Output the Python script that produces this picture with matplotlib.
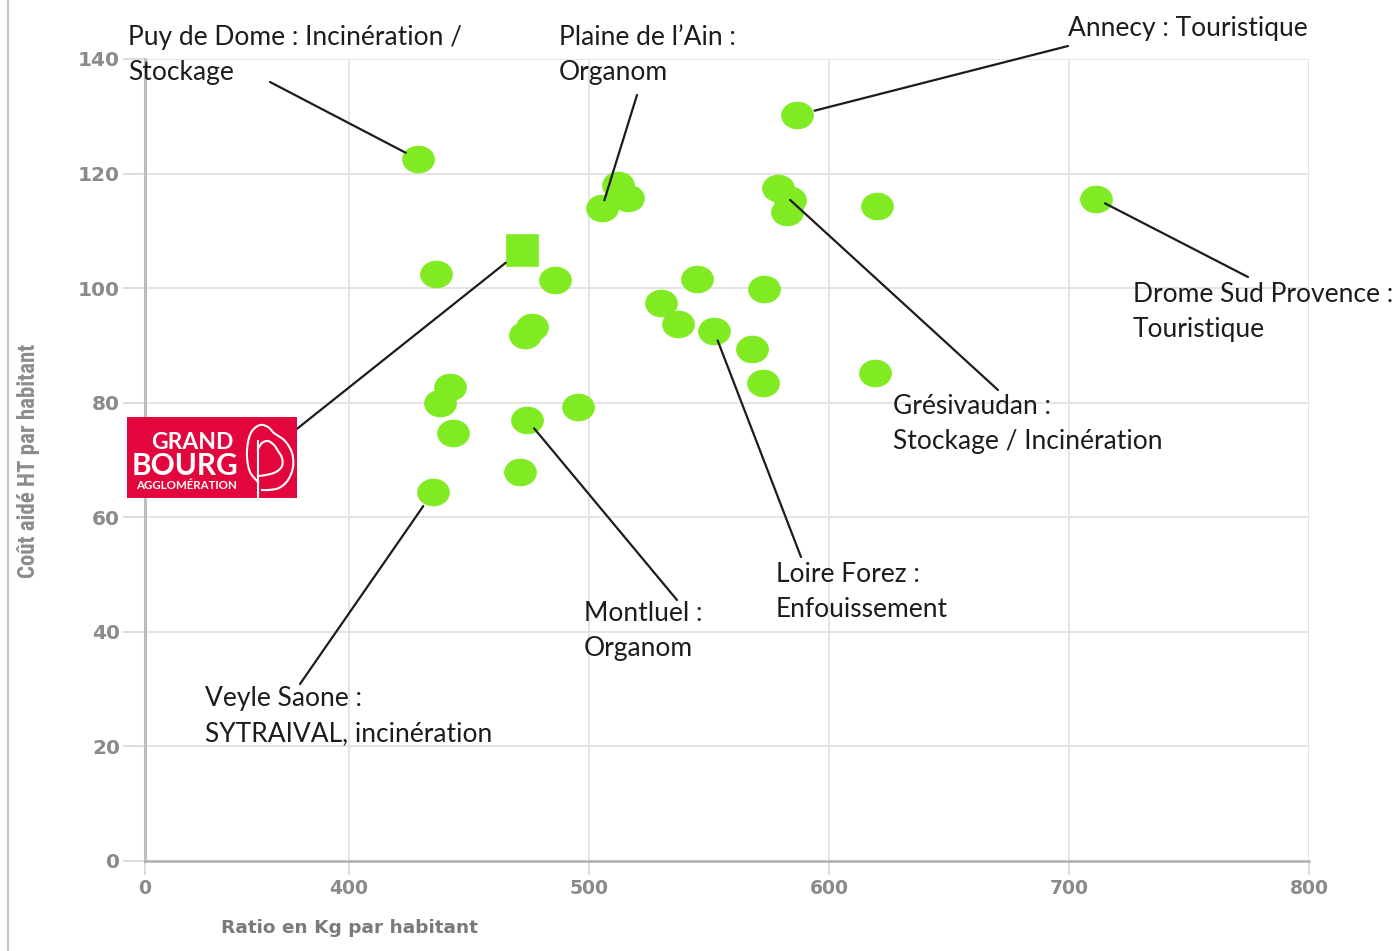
import numpy as np
import matplotlib
matplotlib.use("Agg")
import matplotlib.pyplot as plt
from matplotlib import font_manager
from matplotlib.path import Path
from matplotlib.patches import Rectangle
from matplotlib.lines import Line2D

# ---------------- data ----------------
ratio_kg = [428.8, 586.7, 512.1, 516.3, 505.4, 578.8, 583.8, 582.5, 620.0, 711.3,
            436.3, 485.8, 545.0, 572.9, 530.0, 537.1, 552.1, 476.3, 473.3, 567.9,
            572.5, 619.2, 442.1, 437.9, 443.3, 474.2, 495.4, 471.3, 435.0]
cout_aide = [122.5, 130.2, 118.0, 115.7, 114.0, 117.5, 115.4, 113.3, 114.3, 115.6,
             102.5, 101.4, 101.6, 99.9, 97.4, 93.7, 92.5, 93.2, 91.8, 89.4,
             83.4, 85.2, 82.7, 80.0, 74.7, 77.0, 79.3, 67.9, 64.4]
gb_ratio = [472.1]
gb_cout = [106.7]

x_ticks = [0, 400, 500, 600, 700, 800]
y_ticks = [0, 20, 40, 60, 80, 100, 120, 140]
x_label = "Ratio en Kg par habitant"
y_label = "Coût aidé HT par habitant"

# annotations: (label lines, index of point, text x px, first baseline px, leader start px, shrink px)
annotations = [
    (["Puy de Dome : Incinération /", "Stockage"], 0, 128, 45, (270, 82), 14),
    (["Plaine de l\u2019Ain :", "Organom"], 4, 559, 45, (637, 95), 8),
    (["Annecy : Touristique"], 1, 1068, 36, (1068, 46), 18),
    (["Drome Sud Provence :", "Touristique"], 9, 1133, 302, (1248, 277), 10),
    (["Grésivaudan :", "Stockage / Incinération"], 6, 893, 414, (998, 390), 0),
    (["Loire Forez :", "Enfouissement"], 16, 776, 582, (801, 557), 10),
    (["Montluel :", "Organom"], 25, 584, 621, (677, 600), 11),
    (["Veyle Saone :", "SYTRAIVAL, incinération"], 28, 205, 706, (300, 684), 17),
]

GREEN = "#80EB22"
W, H = 1400, 951

fig = plt.figure(figsize=(W / 100, H / 100), dpi=100)
fig.patch.set_facecolor("white")

def fx(px):
    return np.asarray(px, dtype=float) / W

def fy(py):
    return 1 - np.asarray(py, dtype=float) / H

ax = fig.add_axes([fx(145), fy(861), (1309 - 145) / W, (861 - 59) / H])

def fwd(x):
    x = np.asarray(x, dtype=float)
    return np.where(x <= 400, x * 85.0 / 400.0, x - 315.0)

def inv(u):
    u = np.asarray(u, dtype=float)
    return np.where(u <= 85, u * 400.0 / 85.0, u + 315.0)

ax.set_xscale("function", functions=(fwd, inv))
ax.set_xlim(0, 800)
ax.set_ylim(0, 140)

# grid
for v in x_ticks[1:]:
    ax.axvline(v, color="#e4e4e4", lw=1.4, zorder=0)
for v in y_ticks[1:]:
    ax.axhline(v, color="#e4e4e4", lw=1.4, zorder=0)

for s in ["top", "right"]:
    ax.spines[s].set_visible(False)
ax.spines["left"].set_color("#bdbdbd")
ax.spines["left"].set_linewidth(2.2)
ax.spines["bottom"].set_color("#b0b0b0")
ax.spines["bottom"].set_linewidth(1.8)

ax.set_xticks(x_ticks)
ax.set_xticklabels([str(t) for t in x_ticks])
ax.set_yticks(y_ticks)
ax.set_yticklabels([str(t) for t in y_ticks])
ax.minorticks_off()
ax.tick_params(axis="x", length=10, width=1.4, color="#dcdcdc", pad=3,
               labelsize=13.5, labelcolor="#8a8a8a")
ax.tick_params(axis="y", length=16, width=1.4, color="#dcdcdc", pad=2,
               labelsize=14.5, labelcolor="#8a8a8a")
for lab in ax.get_xticklabels() + ax.get_yticklabels():
    lab.set_fontweight("bold")
    lab.set_family("DejaVu Sans")

# markers
t = np.linspace(0, 2 * np.pi, 60)
ell = Path(np.column_stack([1.185 * np.cos(t), np.sin(t)]), closed=True)
ax.plot(ratio_kg, cout_aide, linestyle="none", marker=ell, markersize=23,
        markerfacecolor=GREEN, markeredgecolor=GREEN, markeredgewidth=0.5, zorder=3)
ax.plot(gb_ratio, gb_cout, linestyle="none", marker="s", markersize=23.5,
        markerfacecolor=GREEN, markeredgecolor=GREEN, markeredgewidth=0.5, zorder=3)

# annotations
TXT = "#1c1c1c"
for lines, idx, tx, base, start, shrink in annotations:
    for k, line in enumerate(lines):
        fig.text(fx(tx), fy(base + 35 * k), line, fontsize=19, family="Lato",
                 color=TXT, ha="left", va="baseline")
    ax.annotate("", xy=(ratio_kg[idx], cout_aide[idx]), xycoords="data",
                xytext=(fx(start[0]), fy(start[1])), textcoords="figure fraction",
                arrowprops=dict(arrowstyle="-", color=TXT, lw=1.6,
                                shrinkA=0, shrinkB=shrink * 0.72), zorder=4)

# leader to Grand Bourg square
ax.annotate("", xy=(gb_ratio[0], gb_cout[0]), xycoords="data",
            xytext=(fx(293), fy(432)), textcoords="figure fraction",
            arrowprops=dict(arrowstyle="-", color=TXT, lw=1.6,
                            shrinkA=0, shrinkB=15), zorder=4)

# axis labels
fig.text(fx(349), fy(928), x_label, fontsize=13.3, family="DejaVu Sans",
         color="#7a7a7a", ha="center", va="center", fontweight="bold")

def has_font(name):
    try:
        font_manager.findfont(font_manager.FontProperties(family=name),
                              fallback_to_default=False)
        return True
    except Exception:
        return False

if has_font("Roboto Condensed"):
    yl_family, yl_size = "Roboto Condensed", 16.5
elif has_font("Liberation Sans Narrow"):
    yl_family, yl_size = "Liberation Sans Narrow", 17
else:
    yl_family, yl_size = "Liberation Sans", 13.6
fig.text(fx(29), fy(461), y_label, fontsize=yl_size, family=yl_family,
         color="#8c8c8c", ha="center", va="center", rotation=90, fontweight="bold")

# left border line of the image
fig.add_artist(Line2D([fx(8), fx(8)], [0, 1], color="#c8c8c8", lw=1.5))

# Grand Bourg logo
RED = "#E2063C"
fig.add_artist(Rectangle((fx(127), fy(498)), (297 - 127) / W, (498 - 417) / H,
                         transform=fig.transFigure, facecolor=RED, edgecolor="none", zorder=5))
fig.text(fx(151), fy(449), "GRAND", fontsize=16.5, family="Lato", color="white",
         fontweight="bold", ha="left", va="baseline", zorder=6)
fig.text(fx(132), fy(475), "BOURG", fontsize=21.5, family="Lato", color="white",
         fontweight="bold", ha="left", va="baseline", zorder=6)
fig.text(fx(136), fy(489), "AGGLOMÉRATION", fontsize=8.3, family="Lato",
         color="white", fontweight="bold", ha="left", va="baseline", zorder=6)

def catmull(pts, n=12):
    pts = np.asarray(pts, dtype=float)
    p = np.vstack([pts[0], pts, pts[-1]])
    out = []
    for i in range(1, len(p) - 2):
        p0, p1, p2, p3 = p[i - 1], p[i], p[i + 1], p[i + 2]
        for s in np.linspace(0, 1, n, endpoint=False):
            out.append(0.5 * ((2 * p1) + (-p0 + p2) * s +
                              (2 * p0 - 5 * p1 + 4 * p2 - p3) * s ** 2 +
                              (-p0 + 3 * p1 - 3 * p2 + p3) * s ** 3))
    out.append(pts[-1])
    return np.array(out)

outer = catmull([(258, 482), (250, 472), (247, 457), (248, 442), (252, 431), (260, 425),
                 (268, 427), (274, 433), (285, 441), (292, 453), (293, 467), (288, 480),
                 (279, 488), (268, 490), (262, 490)])
inner = catmull([(258, 449), (262, 443), (268, 441), (274, 445), (278, 451), (282, 458),
                 (282, 466), (276, 472), (266, 475), (258, 476)])
for c in (outer, inner):
    fig.add_artist(Line2D(fx(c[:, 0]), fy(c[:, 1]), color="white", lw=1.5, zorder=6))
fig.add_artist(Line2D([fx(258), fx(258)], [fy(441), fy(497)], color="white", lw=1.5, zorder=6))

fig.savefig("out.png", dpi=100, facecolor="white")
